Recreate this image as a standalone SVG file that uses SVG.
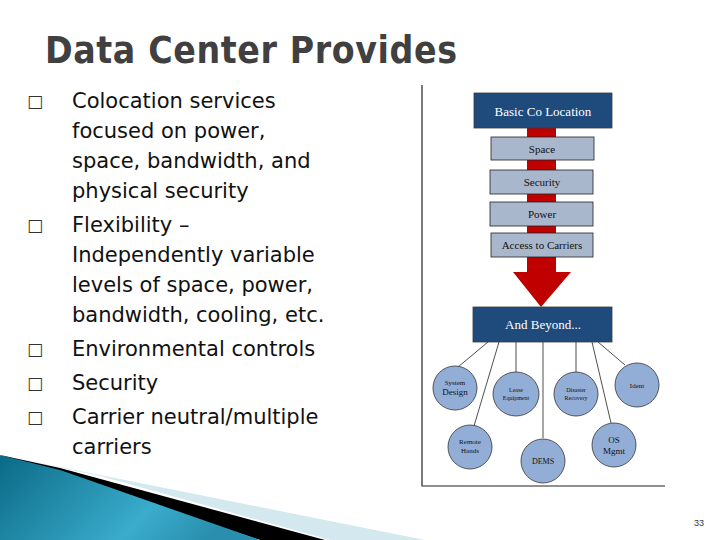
<svg xmlns="http://www.w3.org/2000/svg" width="720" height="540" viewBox="0 0 720 540">
<defs>
<linearGradient id="teal" x1="0" y1="0" x2="1" y2="0.3"><stop offset="0" stop-color="#0a6a86"/><stop offset="0.7" stop-color="#3aaccc"/><stop offset="1" stop-color="#2a8fae"/></linearGradient>
<style>
.t{font-family:"DejaVu Sans",sans-serif;font-size:21px;fill:#111}
.b{font-family:"DejaVu Sans",sans-serif;font-size:17px;fill:#333}
.s{font-family:"Liberation Serif",serif;fill:#111;text-anchor:middle}
.w{font-family:"Liberation Serif",serif;fill:#fff;text-anchor:middle;font-size:13px}
.gb{fill:#a9b7cc;stroke:#222;stroke-width:0.8}
.db{fill:#1f4a7c;stroke:#3a3a3a;stroke-width:0.8}
.c{fill:#93aed6;stroke:#333;stroke-width:0.8}
.l{stroke:#222;stroke-width:0.8;fill:none}
</style>
</defs>
<rect width="720" height="540" fill="#fff"/>
<path d="M0 455 L425 540 L330 540 L100 476Z" fill="#d4e9ef"/>
<path d="M0 455 L60 468 L325 540 L260 540Z" fill="#000"/>
<path d="M0 455 L60 470 L260 540 L0 540Z" fill="url(#teal)"/>
<text x="45" y="63" font-family="DejaVu Sans Condensed,DejaVu Sans,sans-serif" font-weight="bold" font-size="37" fill="#404040" textLength="412">Data Center Provides</text>
<g>
<text class="b" x="27" y="107">□</text><text class="t" x="72" y="108">Colocation services</text>
<text class="t" x="72" y="138">focused on  power,</text>
<text class="t" x="72" y="168">space, bandwidth, and</text>
<text class="t" x="72" y="198">physical security</text>
<text class="b" x="27" y="231">□</text><text class="t" x="72" y="232">Flexibility –</text>
<text class="t" x="72" y="262">Independently variable</text>
<text class="t" x="72" y="292">levels of space, power,</text>
<text class="t" x="72" y="322">bandwidth, cooling, etc.</text>
<text class="b" x="27" y="355">□</text><text class="t" x="72" y="356">Environmental controls</text>
<text class="b" x="27" y="389">□</text><text class="t" x="72" y="390">Security</text>
<text class="b" x="27" y="423">□</text><text class="t" x="72" y="424">Carrier neutral/multiple</text>
<text class="t" x="72" y="454">carriers</text>
</g>
<path d="M422 85 V486 H665" stroke="#222" stroke-width="1.2" fill="none"/>
<g id="arrow"><path d="M527 128 H556 V272 H571 L541 307 L513 272 H527Z" fill="#c00000"/></g>
<g id="connectors">
<line class="l" x1="488" y1="342" x2="458" y2="367"/>
<line class="l" x1="499" y1="342" x2="474" y2="426"/>
<line class="l" x1="516" y1="342" x2="516" y2="372"/>
<line class="l" x1="543" y1="342" x2="543" y2="438"/>
<line class="l" x1="592" y1="342" x2="611" y2="423"/>
<line class="l" x1="598" y1="342" x2="625" y2="365"/>
<line class="l" x1="576" y1="342" x2="576" y2="372"/>
</g>
<g id="basic"><rect class="db" x="474" y="93" width="138" height="35"/><text class="w" x="543" y="116">Basic Co Location</text></g>
<g id="space"><rect class="gb" x="491" y="137" width="103" height="23"/><text class="s" x="542" y="153" font-size="11">Space</text></g>
<g id="security"><rect class="gb" x="490" y="170" width="103" height="24"/><text class="s" x="542" y="186" font-size="11">Security</text></g>
<g id="power"><rect class="gb" x="490" y="202" width="103" height="24"/><text class="s" x="542" y="218" font-size="11">Power</text></g>
<g id="access"><rect class="gb" x="491" y="233" width="102" height="24"/><text class="s" x="542" y="249" font-size="11">Access to Carriers</text></g>
<g id="beyond"><rect class="db" x="473" y="307" width="139" height="35"/><text class="w" x="543" y="329">And Beyond...</text></g>
<g id="n1"><ellipse class="c" cx="455" cy="388" rx="22" ry="22"/><text class="s" x="455" y="385" font-size="7">System</text><text class="s" x="455" y="395" font-size="9">Design</text></g>
<g id="n2"><ellipse class="c" cx="516" cy="394" rx="23" ry="22"/><text class="s" x="516" y="392" font-size="6">Lease</text><text class="s" x="516" y="400" font-size="6">Equipment</text></g>
<g id="n3"><ellipse class="c" cx="576" cy="394" rx="22" ry="22"/><text class="s" x="576" y="392" font-size="6">Disaster</text><text class="s" x="576" y="400" font-size="6">Recovery</text></g>
<g id="n4"><ellipse class="c" cx="637" cy="385" rx="22" ry="22"/><text class="s" x="637" y="388" font-size="7">Ident</text></g>
<g id="n5"><ellipse class="c" cx="470" cy="447" rx="22" ry="22"/><text class="s" x="470" y="444" font-size="7">Remote</text><text class="s" x="470" y="453" font-size="7">Hands</text></g>
<g id="n6"><ellipse class="c" cx="543" cy="461" rx="22" ry="22"/><text class="s" x="543" y="464" font-size="8">DEMS</text></g>
<g id="n7"><ellipse class="c" cx="614" cy="445" rx="22" ry="22"/><text class="s" x="614" y="443" font-size="9">OS</text><text class="s" x="614" y="454" font-size="9">Mgmt</text></g>
<text x="704" y="526" font-family="Liberation Sans,sans-serif" font-size="9" fill="#333" text-anchor="end">33</text>
</svg>
